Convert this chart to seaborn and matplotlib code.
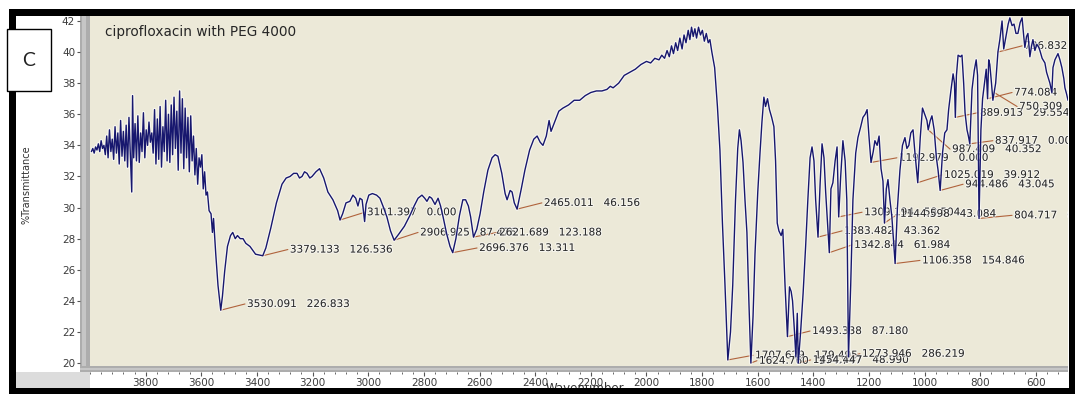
import numpy as np
import pandas as pd
import matplotlib
matplotlib.use("Agg")
import matplotlib.pyplot as plt
import matplotlib.patheffects as pe
from matplotlib.patches import Rectangle
from matplotlib.ticker import MultipleLocator
import seaborn as sns

# ---- FTIR spectrum of ciprofloxacin with PEG 4000, split by region ----
# noisy O-H / moisture region
wn_high = [3995, 3990, 3985, 3980, 3975, 3970, 3965, 3960, 3955, 3950,
           3945, 3940, 3935, 3930, 3925, 3920, 3915, 3910, 3905, 3900,
           3895, 3890, 3885, 3880, 3875, 3870, 3865, 3860, 3855, 3850,
           3847, 3843, 3838, 3833, 3828, 3823, 3818, 3813, 3808, 3803,
           3798, 3793, 3788, 3783, 3778, 3773, 3768, 3763, 3758, 3753,
           3748, 3743, 3738, 3733, 3728, 3723, 3718, 3713, 3708, 3703,
           3698, 3693, 3688, 3683, 3678, 3673, 3668, 3663, 3658, 3653,
           3648, 3643, 3638, 3633, 3628, 3623, 3618, 3613, 3608, 3603,
           3598, 3593, 3588, 3583, 3578, 3572]
t_high = [33.6, 33.8, 33.5, 33.9, 33.7, 34.1, 33.6, 34.3, 33.8, 34.0,
          33.4, 34.6, 33.2, 35.0, 33.6, 34.4, 33.1, 35.2, 33.5, 34.8,
          32.8, 35.6, 33.3, 34.9, 33.0, 35.3, 32.6, 35.8, 33.4, 31.0,
          37.2, 33.2, 35.4, 33.0, 35.9, 32.9, 34.8, 33.6, 36.1, 33.2,
          35.0, 34.0, 35.5, 34.2, 34.8, 33.5, 36.3, 32.8, 35.7, 33.1,
          36.5, 32.6, 35.2, 33.6, 36.9, 33.0, 36.0, 32.9, 36.6, 33.4,
          37.1, 33.8, 36.2, 32.4, 37.5, 33.5, 37.0, 32.5, 36.4, 33.2,
          35.8, 32.3, 35.9, 33.0, 34.6, 32.1, 33.8, 31.5, 33.2, 32.6,
          33.4, 31.2, 32.3, 30.8, 31.0, 29.8]

# N-H / C-H stretching region
wn_mid = [3565, 3560, 3556, 3548, 3540, 3530.091, 3524, 3516, 3506, 3495,
          3487, 3478, 3470, 3460, 3450, 3440, 3425, 3405, 3379.133, 3368,
          3350, 3330, 3310, 3295, 3281, 3268, 3256, 3247, 3238, 3229,
          3220, 3210, 3202, 3188, 3175, 3160, 3145, 3127, 3110, 3101.397,
          3092, 3080, 3066, 3055, 3045, 3037, 3030, 3022, 3013, 3008,
          2998, 2985, 2970, 2958, 2945, 2933, 2920, 2906.925, 2890, 2870,
          2850, 2835, 2821, 2807, 2797, 2789, 2780, 2772, 2760, 2749,
          2740, 2731, 2718, 2706, 2696.376, 2685, 2672, 2660, 2650, 2640,
          2632, 2621.689, 2610, 2598, 2585, 2570, 2555, 2544, 2534, 2520,
          2508, 2501, 2490, 2483, 2475, 2465.011, 2450, 2437, 2420]
t_mid = [29.6, 28.4, 29.3, 27.0, 25.0, 23.4, 24.3, 25.9, 27.5, 28.2,
         28.4, 28.0, 28.2, 28.0, 28.0, 27.7, 27.5, 27.0, 26.9, 27.4,
         28.7, 30.3, 31.5, 31.9, 32.0, 32.2, 32.2, 31.9, 32.0, 32.3,
         32.2, 31.9, 32.0, 32.3, 32.5, 31.9, 31.0, 30.5, 29.8, 29.2,
         29.6, 30.3, 30.4, 30.8, 30.6, 30.1, 30.6, 30.5, 29.1, 30.2,
         30.8, 30.9, 30.8, 30.6, 30.0, 29.4, 28.5, 27.9, 28.3, 28.8,
         29.5, 30.1, 30.6, 30.8, 30.6, 30.4, 30.7, 30.6, 30.2, 30.6,
         30.1, 29.4, 28.3, 27.5, 27.1, 28.0, 29.5, 30.5, 30.5, 30.1,
         29.4, 28.1, 28.6, 29.6, 31.0, 32.4, 33.2, 33.4, 33.3, 32.2,
         30.9, 30.5, 31.1, 31.0, 30.3, 29.9, 31.2, 32.4, 33.7]

# rising baseline up to the carbonyl band
wn_plateau = [2405, 2393, 2382, 2372, 2360, 2350, 2343, 2330, 2315, 2300,
              2280, 2260, 2240, 2220, 2200, 2180, 2160, 2142, 2130, 2120,
              2100, 2080, 2060, 2040, 2020, 2000, 1985, 1970, 1955, 1945,
              1935, 1926, 1918, 1910, 1903, 1895, 1888, 1880, 1872, 1865,
              1858, 1850, 1844, 1838, 1832, 1826, 1820, 1813, 1806, 1799,
              1792, 1785, 1778, 1772, 1765]
t_plateau = [34.4, 34.6, 34.2, 34.0, 34.6, 35.6, 34.9, 35.5, 36.2, 36.4,
             36.6, 36.9, 36.9, 37.2, 37.4, 37.5, 37.5, 37.6, 37.8, 37.7,
             38.0, 38.5, 38.7, 38.9, 39.2, 39.4, 39.3, 39.6, 39.5, 39.8,
             39.6, 40.1, 39.7, 40.4, 39.9, 40.6, 40.1, 40.9, 40.2, 41.1,
             40.6, 41.4, 40.8, 41.6, 41.0, 41.5, 40.9, 41.6, 41.1, 41.4,
             40.7, 41.2, 40.6, 40.8, 40.0]

# fingerprint region
wn_finger = [1755, 1745, 1736, 1727, 1718, 1707.629, 1698, 1690, 1680, 1672,
             1666, 1660, 1653, 1646, 1639, 1632, 1624.760, 1617, 1610, 1600,
             1592, 1585, 1578, 1572, 1565, 1558, 1550, 1542, 1536, 1530,
             1524, 1516, 1510, 1502, 1493.338, 1486, 1480, 1475, 1468, 1463,
             1458, 1454.447, 1446, 1437, 1428, 1420, 1412, 1405, 1398, 1392,
             1383.482, 1376, 1369, 1362, 1356, 1342.844, 1337, 1330, 1322, 1315,
             1309.194, 1302, 1294, 1286, 1280, 1273.946, 1266, 1258, 1248, 1240,
             1230, 1222, 1214, 1207, 1200, 1192.979, 1185, 1179, 1171, 1164,
             1157, 1150, 1144.598, 1138, 1132, 1125, 1118, 1106.358, 1098, 1089,
             1080, 1071, 1064, 1057, 1050, 1042, 1035, 1025.019, 1016, 1008]
t_finger = [39.0, 36.5, 33.7, 29.0, 25.1, 20.2, 22.0, 25.0, 30.5, 33.8,
            35.0, 34.3, 32.9, 30.5, 28.4, 24.0, 20.0, 23.0, 27.0, 31.0,
            33.5, 35.5, 37.1, 36.5, 37.0, 36.3, 35.8, 35.2, 33.0, 29.0,
            28.5, 28.2, 28.6, 25.0, 21.7, 24.9, 24.6, 24.0, 22.0, 20.4,
            23.2, 20.0, 22.0, 24.5, 27.5, 30.5, 33.2, 33.9, 33.0, 30.5,
            28.1, 31.5, 34.1, 33.2, 31.0, 27.1, 31.2, 31.6, 33.0, 33.9,
            29.4, 32.0, 34.3, 33.0, 30.5, 20.4, 25.0, 30.5, 33.5, 34.5,
            35.2, 35.8, 36.0, 36.3, 34.5, 32.9, 33.6, 34.3, 34.0, 34.6,
            32.5, 31.7, 29.0, 31.2, 31.8, 30.5, 29.4, 26.4, 30.0, 32.4,
            34.0, 34.5, 33.8, 34.0, 34.8, 35.0, 33.5, 31.6, 34.5, 36.4]

# low wavenumber region
wn_low = [1000, 992, 987.409, 980, 974, 966, 958, 952, 944.486, 936,
          928, 920, 914, 906, 898, 893, 889.913, 886, 880, 872,
          866, 860, 855, 848, 843, 837.917, 830, 822, 815, 810,
          804.717, 798, 792, 784, 779, 774.084, 770, 766, 760, 755,
          750.309, 745, 741, 736.832, 730, 722, 716, 708, 700, 694,
          686, 679, 672, 665, 657, 650, 644, 640, 634, 629,
          622, 616, 611, 604, 597, 590, 586, 578, 568, 562,
          557, 550, 543, 539, 532, 521, 514, 507, 500, 496,
          490, 485]
t_low = [36.0, 35.6, 35.0, 35.6, 35.9, 35.0, 33.2, 32.4, 31.1, 33.5,
         34.8, 35.0, 36.3, 37.5, 38.6, 38.0, 35.8, 38.5, 39.8, 39.7,
         39.8, 38.0, 36.1, 35.0, 34.6, 34.1, 37.6, 38.8, 39.5, 38.5,
         29.3, 35.0, 37.0, 38.2, 38.9, 37.0, 39.5, 39.2, 38.0, 36.9,
         37.4, 38.0, 39.0, 40.0, 40.8, 42.0, 40.2, 41.0, 41.8, 42.2,
         41.7, 41.8, 41.2, 41.2, 41.9, 42.2, 41.0, 40.3, 41.0, 41.2,
         39.7, 40.4, 40.8, 40.1, 40.5, 40.3, 40.1, 39.6, 39.3, 38.7,
         38.4, 38.0, 37.4, 39.0, 39.5, 39.9, 39.5, 39.0, 38.3, 37.7,
         37.3, 36.9]

# peak-pick annotations: wavenumber, second column, text anchor
peak_wn = [3530.091, 3379.133, 3101.397, 2906.925, 2696.376, 2621.689, 2465.011,
           1707.629, 1624.760, 1493.338, 1454.447, 1383.482, 1342.844, 1309.194,
           1273.946, 1192.979, 1144.598, 1106.358, 1025.019, 987.409, 944.486,
           889.913, 837.917, 804.717, 774.084, 750.309, 736.832]
peak_col2 = ["226.833", "126.536", "0.000", "87.476", "13.311", "123.188", "46.156",
             "179.495", "174.747", "87.180", "48.990", "43.362", "61.984", "58.504",
             "286.219", "0.000", "43.084", "154.846", "39.912", "40.352", "43.045",
             "29.554", "0.000", "66.318", "0.000", "29.555", "0.000"]
label_wn = [3443, 3289, 3012, 2821, 2609, 2537, 2376,
            1617, 1603, 1412, 1410, 1297, 1261, 1225,
            1233, 1100, 1096, 1017, 938, 909, 862,
            809, 755, 686, 686, 668, 650]
label_t = [23.8, 27.3, 29.7, 28.4, 27.4, 28.4, 30.3,
           20.5, 20.15, 22.06, 20.2, 28.5, 27.6, 29.7,
           20.6, 33.2, 29.6, 26.6, 32.1, 33.76, 31.5,
           36.1, 34.3, 29.5, 37.4, 36.5, 40.4]

sns.set_style("white")
plt.rcParams["font.family"] = ["DejaVu Sans"]

W, H = 1075, 394
fig = plt.figure(figsize=(W / 100, H / 100), dpi=100)
fig.patch.set_facecolor("white")


def fx(px):
    return px / W


def fy(py):
    return 1 - py / H


def box(x0, y0, x1, y1, **kw):
    r = Rectangle((fx(x0), fy(y1)), fx(x1) - fx(x0), fy(y0) - fy(y1),
                  transform=fig.transFigure, **kw)
    fig.add_artist(r)
    return r


ax = fig.add_axes([fx(90), fy(366), fx(1068) - fx(90), fy(16) - fy(366)])
ax.set_facecolor("#ECE9D8")

wn = np.concatenate([wn_high, wn_mid, wn_plateau, wn_finger, wn_low])
tr = np.concatenate([t_high, t_mid, t_plateau, t_finger, t_low])
spectrum = pd.DataFrame({"Wavenumber": wn, "%Transmittance": tr})

sns.lineplot(data=spectrum, x="Wavenumber", y="%Transmittance", ax=ax,
             sort=False, estimator=None, color="#17176e", linewidth=1.0, zorder=5)
ax.lines[0].set_path_effects([pe.Stroke(linewidth=2.6, foreground="white", alpha=0.6),
                              pe.Normal()])

order = np.argsort(wn)
for w0, c2, tx, ty in zip(peak_wn, peak_col2, label_wn, label_t):
    y0 = np.interp(w0, wn[order], tr[order])
    ax.plot([w0, tx], [y0, ty], color="#b0633c", lw=0.8, zorder=3)
    ax.annotate(f"{w0:.3f}   {c2}", xy=(tx, ty), xytext=(1.5, 0),
                textcoords="offset points", fontsize=7.5, color="#2b2b2b",
                va="center", ha="left", zorder=4, annotation_clip=False,
                clip_on=True,
                path_effects=[pe.withStroke(linewidth=1.5, foreground="white", alpha=0.6)])

ax.set_xlim(4000, 485)
ax.set_ylim(19.81, 42.32)
ax.set_xticks(np.arange(3800, 599, -200))
ax.xaxis.set_minor_locator(MultipleLocator(40))
ax.set_yticks(np.arange(20, 43, 2))
ax.set_xlabel("")
ax.set_ylabel("")
for s in ax.spines.values():
    s.set_visible(False)
ax.spines["left"].set_position(("outward", 7.2))
ax.spines["bottom"].set_position(("outward", 4.3))
ax.tick_params(axis="y", which="major", left=True, length=2.5, width=0.8,
               color="#555555", direction="out", pad=1, labelsize=7.5,
               labelcolor="#3c3c3c")
ax.tick_params(axis="x", which="major", bottom=True, length=3, width=0.8,
               color="#555555", direction="out", pad=1.5, labelsize=7.5,
               labelcolor="#3c3c3c")
ax.tick_params(axis="x", which="minor", bottom=True, length=1.5, width=0.7,
               color="#666666", direction="out")

# grey scale strips along the axes
box(16, 372, 90, 388, fc="#dcdcdc", lw=0, zorder=-2)
box(80, 16, 90, 372, fc="#adadad", lw=0, zorder=-1)
box(82, 16, 86, 372, fc="#c6c6c6", lw=0, zorder=-1)
box(80, 366, 1068, 372, fc="#adadad", lw=0, zorder=-1)
box(80, 368, 1068, 370, fc="#c6c6c6", lw=0, zorder=-1)

fig.text(fx(105), fy(32), "ciprofloxacin with PEG 4000", fontsize=9.8,
         color="#262626", va="center", ha="left", zorder=6)
fig.text(fx(27), fy(185), "%Transmittance", fontsize=7, rotation=90,
         color="#333333", va="center", ha="center", zorder=6)
fig.text(fx(585), fy(382), "Wavenumber", fontsize=8.5, color="#333333",
         va="top", ha="center", zorder=6)

# outer black frame
for x0, y0, x1, y1 in [(9, 9, 1075, 16), (9, 9, 16, 394), (9, 388, 1075, 394),
                       (1069, 9, 1075, 394)]:
    box(x0, y0, x1, y1, fc="black", lw=0, zorder=20)

box(7, 29, 51, 91, fc="white", ec="black", lw=1, zorder=21)
fig.text(fx(29), fy(60), "C", fontsize=14, family=["Lato", "DejaVu Sans"],
         color="#222222", va="center", ha="center", zorder=22)

fig.savefig("out.png", dpi=100)
